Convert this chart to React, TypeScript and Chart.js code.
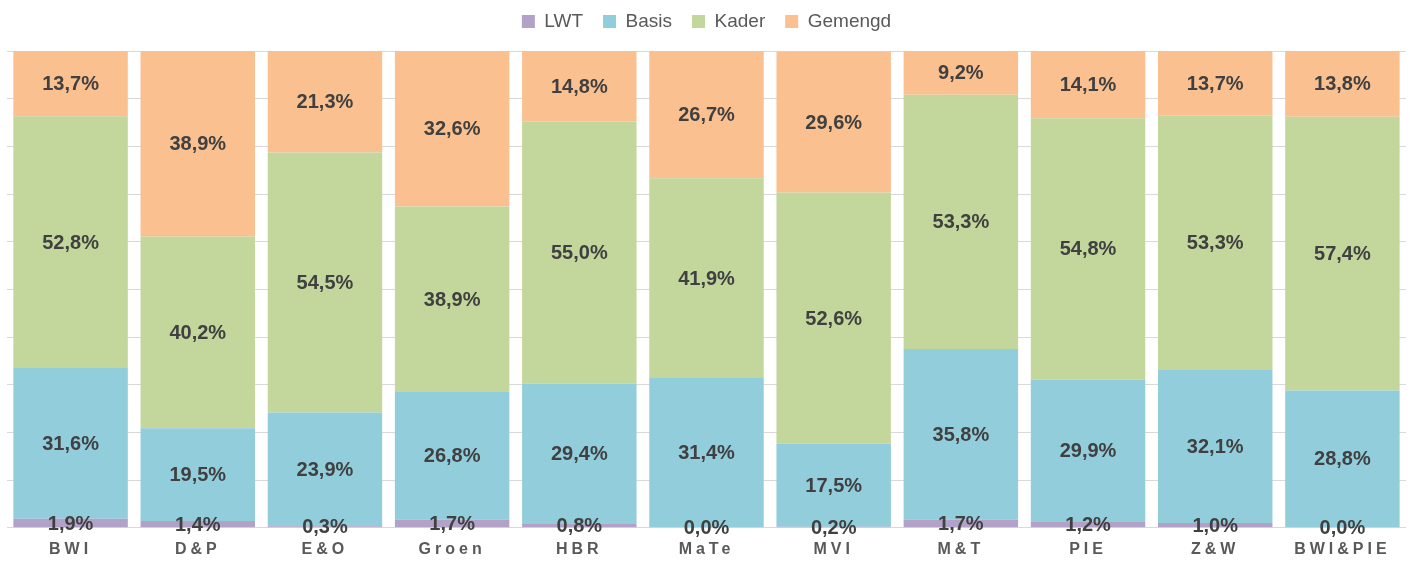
import React, { useEffect, useRef } from "react";
import { Chart, registerables } from "chart.js";

Chart.register(...registerables);

const categories = ["BWI", "D&P", "E&O", "Groen", "HBR", "MaTe", "MVI", "M&T", "PIE", "Z&W", "BWI&PIE"];
const lwt = [1.9, 1.4, 0.3, 1.7, 0.8, 0.0, 0.2, 1.7, 1.2, 1.0, 0.0];
const basis = [31.6, 19.5, 23.9, 26.8, 29.4, 31.4, 17.5, 35.8, 29.9, 32.1, 28.8];
const kader = [52.8, 40.2, 54.5, 38.9, 55.0, 41.9, 52.6, 53.3, 54.8, 53.3, 57.4];
const gemengd = [13.7, 38.9, 21.3, 32.6, 14.8, 26.7, 29.6, 9.2, 14.1, 13.7, 13.8];
const seriesNames = ["LWT", "Basis", "Kader", "Gemengd"];
const seriesColors = ["#B3A2C7", "#92CDDC", "#C3D69B", "#FAC090"];
const yMax = 100;
const yStep = 10;

const FONT = "'Liberation Sans', Arial, sans-serif";

const fmt = (v: number) => v.toFixed(1).replace(".", ",") + "%";

const labelsPlugin = {
  id: "segLabels",
  beforeDraw(chart: any) {
    (chart.ctx as any).letterSpacing = "0px";
  },
  afterDatasetsDraw(chart: any) {
    const ctx = chart.ctx;
    ctx.save();
    ctx.font = `bold 20px ${FONT}`;
    ctx.fillStyle = "#404040";
    ctx.textAlign = "center";
    ctx.textBaseline = "middle";
    chart.data.datasets.forEach((ds: any, di: number) => {
      const meta = chart.getDatasetMeta(di);
      meta.data.forEach((el: any, i: number) => {
        const y = (el.y + el.base) / 2;
        ctx.fillText(fmt(ds.data[i]), el.x, y + 1);
      });
    });
    ctx.restore();
    (ctx as any).letterSpacing = "4px";
  },
  afterDraw(chart: any) {
    (chart.ctx as any).letterSpacing = "0px";
  },
};

const legendGap = {
  id: "legendGap",
  beforeInit(chart: any) {
    const lg = chart.legend;
    if (!lg) return;
    const orig = lg.fit;
    lg.fit = function () {
      orig.bind(lg)();
      this.height += 10;
    };
  },
};

export default function App() {
  const ref = useRef<HTMLCanvasElement | null>(null);
  useEffect(() => {
    if (!ref.current) return;
    const series = [lwt, basis, kader, gemengd];
    const chart = new Chart(ref.current, {
      type: "bar",
      data: {
        labels: categories,
        datasets: series.map((d, i) => ({
          label: seriesNames[i],
          data: d,
          backgroundColor: seriesColors[i],
          borderWidth: 0,
          barPercentage: 0.9,
          categoryPercentage: 1,
        })),
      },
      options: {
        animation: false,
        responsive: true,
        maintainAspectRatio: false,
        layout: { padding: { left: 7, right: 6, top: 0, bottom: -6 } },
        plugins: {
          legend: {
            position: "top",
            labels: {
              boxWidth: 13,
              boxHeight: 13,
              padding: 20,
              color: "#595959",
              font: { family: FONT, size: 19 },
            },
          },
          tooltip: { enabled: false },
          title: { display: false },
        },
        scales: {
          x: {
            stacked: true,
            grid: { display: false, drawTicks: false },
            border: { display: false },
            ticks: {
              z: 1,
              color: "#595959",
              font: { family: FONT, size: 16, weight: "bold" },
              padding: 12,
              autoSkip: false,
              maxRotation: 0,
            },
          },
          y: {
            stacked: true,
            min: 0,
            max: yMax,
            grid: { color: "#D9D9D9", lineWidth: 1, drawTicks: false },
            border: { display: false },
            ticks: { display: false, stepSize: yStep },
          },
        },
      },
      plugins: [labelsPlugin, legendGap],
    });
    return () => chart.destroy();
  }, []);
  return (
    <div style={{ position: "absolute", left: 0, top: -8, width: 1412, height: 573 }}>
      <canvas ref={ref} />
    </div>
  );
}
